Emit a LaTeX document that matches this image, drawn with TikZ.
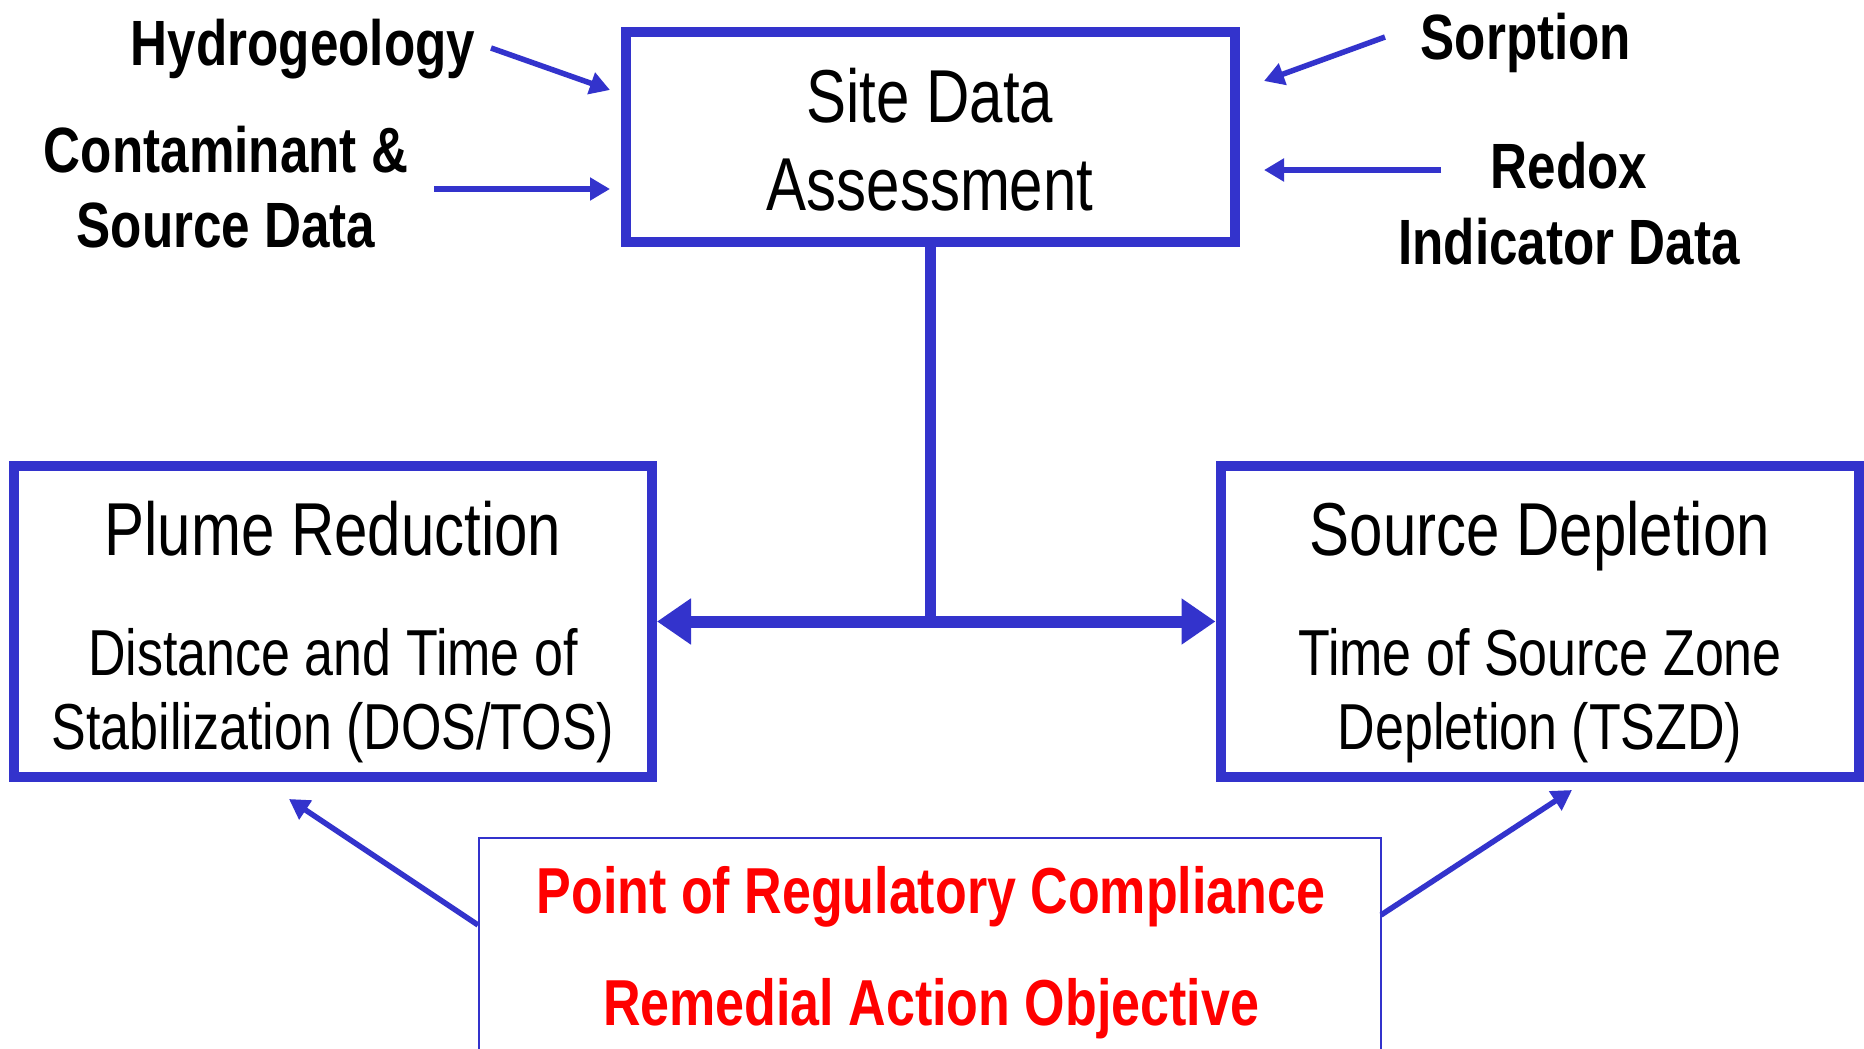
\documentclass[tikz,border=0pt]{standalone}
\usepackage{fontspec}
\setmainfont{Liberation Sans}[FakeStretch=0.8]
\usetikzlibrary{arrows.meta}
\definecolor{dblue}{HTML}{3333CC}
\definecolor{dred}{HTML}{FF0000}
\begin{document}
\begin{tikzpicture}[x=0.5pt,y=-0.5pt,
  bigbox/.style={draw=dblue, line width=5pt, inner sep=0pt},
  titletext/.style={font=\fontsize{37.5}{44}\selectfont, inner sep=0pt, anchor=base},
  subtext/.style={font=\fontsize{32.5}{38}\selectfont, inner sep=0pt, anchor=base},
  labeltext/.style={font=\fontsize{32}{38}\selectfont\bfseries, inner sep=0pt, anchor=base},
  redtext/.style={font=\fontsize{32.5}{38}\selectfont\bfseries, text=dred, inner sep=0pt, anchor=base},
  inarrow/.style={draw=dblue, line width=2.75pt, -{Triangle[length=10pt,width=11pt]}},
  stem/.style={draw=dblue, line width=5.5pt},
  bigarrow/.style={draw=dblue, line width=6pt, {Triangle[length=17pt,width=22pt]}-{Triangle[length=17pt,width=22pt]}}
]
\useasboundingbox (0,0) rectangle (1864,1049);
\clip (0,0) rectangle (1864,1049);
\fill[white] (0,0) rectangle (1864,1049);

% boxes
\node[bigbox, minimum width=304.5pt, minimum height=105pt] (site) at (930,137) {};
\node[bigbox, minimum width=319pt, minimum height=155.5pt] (plume) at (333,621.5) {};
\node[bigbox, minimum width=319pt, minimum height=155.5pt] (source) at (1539.5,621.5) {};
\node[draw=dblue, line width=1.25pt, minimum width=451pt, minimum height=116pt, inner sep=0pt] (rao) at (930,954) {};

% box texts
\node[titletext] (siteA) at (930,122) {Site Data};
\node[titletext] (siteB) at (930,210) {Assessment};
\node[titletext] (plumeT) at (333,555) {Plume Reduction};
\node[subtext] (plumeA) at (333,675) {Distance and Time of};
\node[subtext] (plumeB) at (333,749) {Stabilization (DOS/TOS)};
\node[titletext] (sourceT) at (1540,555) {Source Depletion};
\node[subtext] (sourceA) at (1540,675) {Time of Source Zone};
\node[subtext] (sourceB) at (1540,749) {Depletion (TSZD)};
\node[redtext] (raoA) at (931,913) {Point of Regulatory Compliance};
\node[redtext] (raoB) at (931,1025) {Remedial Action Objective};

% input labels
\node[labeltext] (hydro) at (303,65) {Hydrogeology};
\node[labeltext] (contA) at (226,172) {Contaminant \&};
\node[labeltext] (contB) at (226,247) {Source Data};
\node[labeltext] (sorp) at (1526,59) {Sorption};
\node[labeltext] (redoxA) at (1569,188) {Redox};
\node[labeltext] (redoxB) at (1569,264) {Indicator Data};

% input arrows
\coordinate (hydroS) at (491,48);
\coordinate (hydroE) at (610,90);
\coordinate (contS) at (434,189);
\coordinate (contE) at (610,189);
\coordinate (sorpS) at (1385,37);
\coordinate (sorpE) at (1264,81);
\coordinate (redoxS) at (1441,170);
\coordinate (redoxE) at (1264,170);
\draw[inarrow] (hydroS) -- (hydroE);
\draw[inarrow] (contS) -- (contE);
\draw[inarrow] (sorpS) -- (sorpE);
\draw[inarrow] (redoxS) -- (redoxE);

% main connectors
\draw[stem] (site.south) -- (site.south |- plume.east);
\draw[bigarrow] (plume.east) -- (source.west);

% bottom arrows
\coordinate (raoL) at (478,925);
\coordinate (plumeIn) at (289,799);
\coordinate (raoR) at (1381,915);
\coordinate (sourceIn) at (1572,790);
\draw[inarrow] (raoL) -- (plumeIn);
\draw[inarrow] (raoR) -- (sourceIn);
\end{tikzpicture}
\end{document}
